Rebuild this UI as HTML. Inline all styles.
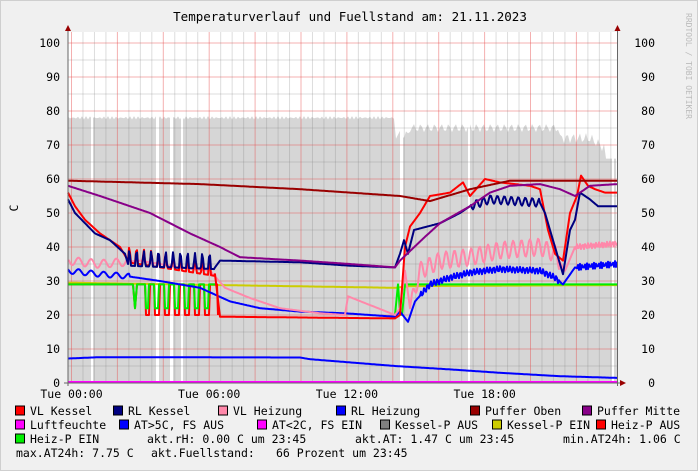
<!DOCTYPE html>
<html><head><meta charset="utf-8"><style>
html,body{margin:0;padding:0;background:#f0f0f0}
svg{display:block}
text{font-family:"DejaVu Sans Mono","Liberation Mono",monospace;font-size:11.5px;fill:#000}
</style></head><body>
<svg id="s" width="698" height="471" xmlns="http://www.w3.org/2000/svg">
<rect x="0" y="0" width="698" height="471" fill="#f0f0f0"/>
<rect x="0.5" y="0.5" width="697" height="470" fill="none" stroke="#cfcfcf"/>
<rect x="68" y="32" width="549" height="351" fill="#fff"/>
<g id="area"></g>
<g id="grid"></g>
<g id="series"></g>
<line x1="68" y1="26" x2="68" y2="386" stroke="#666"/>
<line x1="617.5" y1="26" x2="617.5" y2="386" stroke="#666"/>
<line x1="64" y1="383" x2="622" y2="383" stroke="#666"/>
<polygon points="65,31 71,31 68,25" fill="#900"/>
<polygon points="614.5,31 620.5,31 617.5,25" fill="#900"/>
<polygon points="620,380 620,386 626,383" fill="#900"/>
<text x="350" y="21" text-anchor="middle" style="font-size:12.5px">Temperaturverlauf und Fuellstand am: 21.11.2023</text>
<text x="18" y="208" transform="rotate(-90 18 208)" text-anchor="middle">C</text>
<text x="691" y="8" transform="rotate(90 686 8)" style="font-size:8px;fill:#bbb">RRDTOOL / TOBI OETIKER</text>
<g id="lab"></g>
<g id="leg"></g>
<text x="147" y="443">akt.rH: 0.00 C um 23:45</text>
<text x="355" y="443">akt.AT: 1.47 C um 23:45</text>
<text x="563" y="443">min.AT24h: 1.06 C</text>
<text x="16" y="457">max.AT24h: 7.75 C</text>
<text x="151" y="457">akt.Fuellstand:</text>
<text x="276" y="457">66 Prozent um 23:45</text>
</svg>
<script>
var NS="http://www.w3.org/2000/svg";
function el(p,t,a,txt){var e=document.createElementNS(NS,t);for(var k in a)e.setAttribute(k,a[k]);if(txt)e.textContent=txt;document.getElementById(p).appendChild(e);return e;}
function Y(v){return 383-3.4*v;}
var pts=["68,383"];
for(var x=68;x<=617;x+=2){var v;
 if(x<395)v=78+Math.sin(x*1.7)*0.5;
 else if(x<560)v=75+Math.sin(x*0.9)*1.2-(x<410?2:0);
 else if(x<605)v=72+Math.sin(x)*1.5-(x>590?(x-590)*0.2:0);
 else v=66;
 pts.push(x+","+Y(v).toFixed(1));}
pts.push("617,383");
el("area","polygon",{points:pts.join(" "),fill:"#d6d6d6"});
[[91,2],[156,3],[170,3],[181,2],[400,3],[468,2],[612,2]].forEach(function(g){el("area","rect",{x:g[0],y:32,width:g[1],height:351,fill:"#fff"});});
for(var v=5;v<=100;v+=5){var y=Y(v);el("grid","line",{x1:68,x2:617,y1:y,y2:y,stroke:v%10?"rgba(120,120,120,0.25)":"rgba(230,80,80,0.45)","stroke-width":1});}
for(var i=0;i<48;i++){var x=71.5+11.475*i;if(x>617)break;el("grid","line",{x1:x,x2:x,y1:32,y2:383,stroke:i%4?"rgba(120,120,120,0.25)":"rgba(230,80,80,0.45)"});}
for(var v=0;v<=100;v+=10){el("lab","text",{x:60,y:Y(v)+4,"text-anchor":"end"},String(v));el("lab","text",{x:655,y:Y(v)+4,"text-anchor":"end"},String(v));}
["Tue 00:00","Tue 06:00","Tue 12:00","Tue 18:00"].forEach(function(t,i){el("lab","text",{x:71.5+137.7*i,y:398,"text-anchor":"middle"},t);});
function interp(kp,x){for(var i=0;i<kp.length-1;i++){if(x>=kp[i][0]&&x<=kp[i+1][0]){var t=(x-kp[i][0])/(kp[i+1][0]-kp[i][0]);return kp[i][1]+t*(kp[i+1][1]-kp[i][1]);}}return kp[kp.length-1][1];}
function line(kp,col,w,osc,x0,x1){x0=x0||68;x1=x1||617;var p=[];for(var x=x0;x<=x1;x+=1){var v=interp(kp,x);if(osc)v+=osc(x);p.push(x+","+Y(v).toFixed(1));}el("series","polyline",{points:p.join(" "),fill:"none",stroke:col,"stroke-width":w||2,"stroke-linejoin":"round"});}
function kosc(x){if(x>128&&x<215){var ph=((x-128)%7.3)/7.3;return ph<0.35?4*Math.sin(ph/0.35*Math.PI):-0.5;}if(x>470&&x<540)return 1.2*Math.sin(x*0.9);return 0;}
function hosc(x){if(x>410&&x<560)return 2.5*Math.sin(x*0.75);if(x>68&&x<130)return 1.2*Math.sin(x*0.5);if(x>575)return 0.8*Math.sin(x*2.3);return 0;}
function bosc(x){if(x>420&&x<560)return 0.9*Math.sin(x*1.9);if(x>575)return 0.9*Math.sin(x*2.7);if(x<130)return 0.8*Math.sin(x*0.5);return 0;}
line([[68,0.3],[617,0.3]],"#ff00ff",2);
line([[68,7.2],[100,7.6],[300,7.5],[310,7],[395,5],[450,4],[500,3],[560,2],[617,1.5]],"#0000ff",2);
line([[68,29.5],[395,28],[410,28.5],[617,28.8]],"#cccc00",2);
// Heiz-P AUS (red) only up to 218
line([[68,29],[133,29],[135,22],[137,29],[217,29],[218,20]],"#ff0000",2,function(x){if(x>145&&x<215){var ph=((x-145)%10)/10;return ph<0.5?-9:0;}return 0;},68,218);
// Heiz-P EIN (green)
line([[68,29],[133,29],[135,22],[137,29],[215,29]],"#00ee00",2,function(x){if(x>145&&x<215){var ph=((x-145)%10)/10;return ph<0.35?-7:0;}return 0;},68,215);
line([[395,20],[398,29],[400,21],[402,20],[405,29],[617,29]],"#00ee00",2,null,395,617);
line([[68,33],[100,32],[125,31.5],[160,30],[200,28],[230,24],[260,22],[300,21],[345,20.5],[395,19.5],[400,21],[408,18],[415,24],[430,29],[450,31],[470,32.5],[500,33.5],[540,33],[555,31],[563,29],[575,34],[617,35]],"#0000ff",2,bosc);
line([[68,36],[100,35],[140,36],[180,34],[210,33],[225,28],[250,25],[280,22],[320,20.5],[345,20],[348,25.5],[395,20],[400,22],[405,33],[410,22],[420,33],[440,36],[470,37],[500,39],[540,40],[555,38],[565,33],[575,40],[617,41]],"#ff88aa",2,hosc);
line([[68,56],[75,52],[85,48],[100,44],[120,40],[128,36],[215,32],[220,19.5],[395,19],[400,20],[405,40],[410,46],[420,50],[430,55],[450,56],[463,59],[470,55],[485,60],[500,59],[530,58],[540,57],[548,45],[555,38],[563,36],[570,50],[577,55],[581,61],[588,58],[595,57],[605,56],[617,56]],"#ff0000",2,function(x){if(x>128&&x<215)return kosc(x);return 0;});
line([[68,54],[75,50],[85,47],[95,44],[110,42],[125,38],[128,35],[215,34],[220,36],[300,35.5],[350,34.5],[395,34],[400,38],[404,42],[408,38],[414,45],[440,47],[460,50],[470,52],[490,54],[540,53],[545,50],[555,40],[563,32],[570,45],[575,48],[580,56],[590,54],[598,52],[617,52]],"#000080",2,kosc);
line([[68,58],[100,55],[130,52],[150,50],[170,47],[190,44],[220,40],[240,37],[300,36],[350,35],[395,34],[400,36],[425,43],[440,47],[470,52],[490,56],[510,58],[540,58.5],[560,57],[575,55],[590,58],[617,58.5]],"#880088",2);
line([[68,59.5],[200,58.5],[300,57],[400,55],[430,53.5],[470,57],[510,59.5],[617,59.5]],"#990000",2);
var L=[[20,415,"#ff0000","VL Kessel"],[118,415,"#000080","RL Kessel"],[223,415,"#ff88aa","VL Heizung"],[341,415,"#0000ff","RL Heizung"],[475,415,"#990000","Puffer Oben"],[587,415,"#880088","Puffer Mitte"],
[20,429,"#ff00ff","Luftfeuchte"],[124,429,"#0000ff","AT>5C, FS AUS"],[262,429,"#ff00ff","AT<2C, FS EIN"],[385,429,"#808080","Kessel-P AUS"],[497,429,"#cccc00","Kessel-P EIN"],[601,429,"#ff0000","Heiz-P AUS"],
[20,443,"#00ee00","Heiz-P EIN"]];
L.forEach(function(l){el("leg","rect",{x:l[0]-4.5,y:l[1]-9,width:9,height:9,fill:l[2],stroke:"#000","stroke-width":1});el("leg","text",{x:l[0]+10,y:l[1]},l[3]);});
</script>
</body></html>
